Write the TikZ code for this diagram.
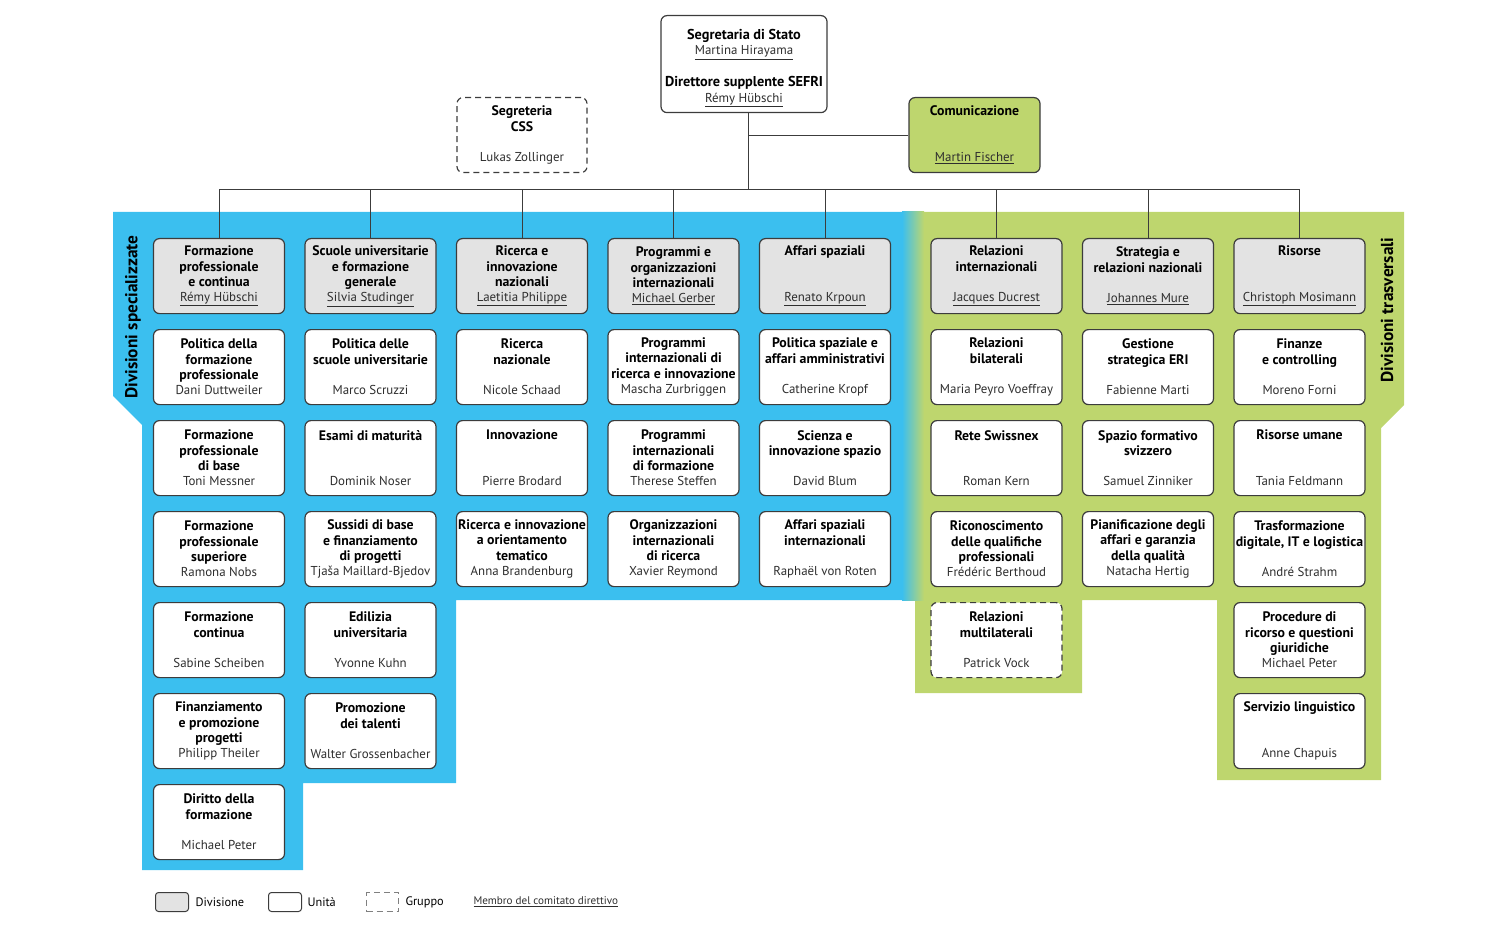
\documentclass[tikz,border=0pt]{standalone}
\usepackage{fontspec}
\setmainfont{PT Sans}
\definecolor{blu}{HTML}{3BBFEF}
\definecolor{verde}{HTML}{BED66E}
\definecolor{grigio}{HTML}{E3E3E3}
\definecolor{bordo}{HTML}{3C3C3C}
\definecolor{testo}{HTML}{2E2E2E}
\newcommand\nome[1]{{\fontsize{12.9}{15.3}\selectfont\mdseries\color{testo}#1}}
\newcommand\capo[1]{{\fontsize{12.9}{15.3}\selectfont\mdseries\color{testo}\underline{#1}}}

\begin{document}
\begin{tikzpicture}[x=1pt,y=-1pt,
    box/.style={draw=bordo,line width=1.2pt,rounded corners=6pt,anchor=north,
      minimum width=131pt,minimum height=75pt,align=center,inner sep=0pt,
      font=\fontsize{13.8}{15.3}\selectfont\bfseries},
    divisione/.style={box,fill=grigio},
    unita/.style={box,fill=white},
    gruppo/.style={box,fill=white,dash pattern=on 6pt off 4pt},
    linea/.style={draw=bordo,line width=1pt},
    legenda/.style={anchor=west,font=\fontsize{12.3}{14}\selectfont},
    titolo/.style={rotate=90,font=\fontsize{17.3}{20}\selectfont\bfseries}]
  \useasboundingbox (0,0) rectangle (1500,936);

  % coloured areas
  \fill[blu] (113,212) -- (912,212) -- (912,600) -- (456,600) -- (456,783) -- (303,783)
    -- (303,870) -- (142,870) -- (142,425) -- (113,396) -- cycle;
  \fill[verde] (912,212) -- (1404,212) -- (1404,405) -- (1381,428) -- (1381,780) -- (1217,780)
    -- (1217,600) -- (1082,600) -- (1082,693) -- (915,693) -- (915,600) -- (912,600) -- cycle;
  \shade[left color=blu,right color=verde] (902,212) rectangle (924,600);

  \node[titolo] (spec) at (133,317) {Divisioni specializzate};
  \node[titolo] (trasv) at (1387,310) {Divisioni trasversali};

  % direzione
  \node[unita,minimum width=166pt,minimum height=97pt,font=\fontsize{14.3}{15.6}\selectfont\bfseries] (stato) at (744,15)
    {\rule{0pt}{18pt}Segretaria di Stato\\\capo{Martina Hirayama}\\[16pt]Direttore supplente SEFRI\\\capo{Rémy Hübschi}};
  \node[gruppo,minimum width=130pt] (css) at (522,97) {Segreteria\\CSS\\[15.3pt]\nome{Lukas Zollinger}};
  \node[box,fill=verde] (comm) at (974.5,97) {Comunicazione\\[30.6pt]\capo{Martin Fischer}};

  % divisioni specializzate
  \node[divisione] (d1) at (219,238) {Formazione\\professionale\\e continua\\\capo{Rémy Hübschi}};
  \node[unita] (u12) at (219,329) {Politica della\\formazione\\professionale\\\nome{Dani Duttweiler}};
  \node[unita] (u13) at (219,420) {Formazione\\professionale\\di base\\\nome{Toni Messner}};
  \node[unita] (u14) at (219,511) {Formazione\\professionale\\superiore\\\nome{Ramona Nobs}};
  \node[unita] (u15) at (219,602) {Formazione\\continua\\[15.3pt]\nome{Sabine Scheiben}};
  \node[unita] (u16) at (219,693) {Finanziamento\\e promozione\\progetti\\\nome{Philipp Theiler}};
  \node[unita] (u17) at (219,784) {Diritto della\\formazione\\[15.3pt]\nome{Michael Peter}};

  \node[divisione] (d2) at (370.5,238) {Scuole universitarie\\e formazione\\generale\\\capo{Silvia Studinger}};
  \node[unita] (u22) at (370.5,329) {Politica delle\\scuole universitarie\\[15.3pt]\nome{Marco Scruzzi}};
  \node[unita] (u23) at (370.5,420) {Esami di maturità\\[30.6pt]\nome{Dominik Noser}};
  \node[unita] (u24) at (370.5,511) {Sussidi di base\\e finanziamento\\di progetti\\\nome{Tjaša Maillard-Bjedov}};
  \node[unita] (u25) at (370.5,602) {Edilizia\\universitaria\\[15.3pt]\nome{Yvonne Kuhn}};
  \node[unita] (u26) at (370.5,693) {Promozione\\dei talenti\\[15.3pt]\nome{Walter Grossenbacher}};

  \node[divisione] (d3) at (522,238) {Ricerca e\\innovazione\\nazionali\\\capo{Laetitia Philippe}};
  \node[unita] (u32) at (522,329) {Ricerca\\nazionale\\[15.3pt]\nome{Nicole Schaad}};
  \node[unita] (u33) at (522,420) {Innovazione\\[30.6pt]\nome{Pierre Brodard}};
  \node[unita] (u34) at (522,511) {Ricerca e innovazione\\a orientamento\\tematico\\\nome{Anna Brandenburg}};

  \node[divisione] (d4) at (673.5,238) {Programmi e\\organizzazioni\\internazionali\\\capo{Michael Gerber}};
  \node[unita] (u42) at (673.5,329) {Programmi\\internazionali di\\ricerca e innovazione\\\nome{Mascha Zurbriggen}};
  \node[unita] (u43) at (673.5,420) {Programmi\\internazionali\\di formazione\\\nome{Therese Steffen}};
  \node[unita] (u44) at (673.5,511) {Organizzazioni\\internazionali\\di ricerca\\\nome{Xavier Reymond}};

  \node[divisione] (d5) at (825,238) {Affari spaziali\\[30.6pt]\capo{Renato Krpoun}};
  \node[unita] (u52) at (825,329) {Politica spaziale e\\affari amministrativi\\[15.3pt]\nome{Catherine Kropf}};
  \node[unita] (u53) at (825,420) {Scienza e\\innovazione spazio\\[15.3pt]\nome{David Blum}};
  \node[unita] (u54) at (825,511) {Affari spaziali\\internazionali\\[15.3pt]\nome{Raphaël von Roten}};

  % divisioni trasversali
  \node[divisione] (d6) at (996.5,238) {Relazioni\\internazionali\\[15.3pt]\capo{Jacques Ducrest}};
  \node[unita] (u62) at (996.5,329) {Relazioni\\bilaterali\\[15.3pt]\nome{Maria Peyro Voeffray}};
  \node[unita] (u63) at (996.5,420) {Rete Swissnex\\[30.6pt]\nome{Roman Kern}};
  \node[unita] (u64) at (996.5,511) {Riconoscimento\\delle qualifiche\\professionali\\\nome{Frédéric Berthoud}};
  \node[gruppo] (u65) at (996.5,602) {Relazioni\\multilaterali\\[15.3pt]\nome{Patrick Vock}};

  \node[divisione] (d7) at (1148,238) {Strategia e\\relazioni nazionali\\[15.3pt]\capo{Johannes Mure}};
  \node[unita] (u72) at (1148,329) {Gestione\\strategica ERI\\[15.3pt]\nome{Fabienne Marti}};
  \node[unita] (u73) at (1148,420) {Spazio formativo\\svizzero\\[15.3pt]\nome{Samuel Zinniker}};
  \node[unita] (u74) at (1148,511) {Pianificazione degli\\affari e garanzia\\della qualità\\\nome{Natacha Hertig}};

  \node[divisione] (d8) at (1299.5,238) {Risorse\\[30.6pt]\capo{Christoph Mosimann}};
  \node[unita] (u82) at (1299.5,329) {Finanze\\e controlling\\[15.3pt]\nome{Moreno Forni}};
  \node[unita] (u83) at (1299.5,420) {Risorse umane\\[30.6pt]\nome{Tania Feldmann}};
  \node[unita] (u84) at (1299.5,511) {Trasformazione\\digitale, IT e logistica\\[15.3pt]\nome{André Strahm}};
  \node[unita] (u85) at (1299.5,602) {Procedure di\\ricorso e questioni\\giuridiche\\\nome{Michael Peter}};
  \node[unita] (u86) at (1299.5,693) {Servizio linguistico\\[30.6pt]\nome{Anne Chapuis}};

  % lines
  \coordinate (bus) at (748,190);
  \draw[linea] (stato.south -| bus) -- (bus);
  \draw[linea] (comm.west) -- (comm.west -| bus);
  \draw[linea] (d1.north |- bus) -- (d8.north |- bus);
  \foreach \i in {1,...,8}
    \draw[linea] (d\i.north) -- (d\i.north |- bus);

  % legend
  \node[divisione,anchor=west,minimum width=33pt,minimum height=19pt,rounded corners=3pt,line width=1pt] (leg1) at (155,902) {};
  \node[legenda] (legt1) at (192,902) {Divisione};
  \node[unita,anchor=west,minimum width=33pt,minimum height=19pt,rounded corners=3pt,line width=1pt] (leg2) at (268,902) {};
  \node[legenda] (legt2) at (304,902) {Unità};
  \node[gruppo,anchor=west,minimum width=32pt,minimum height=19pt,rounded corners=0pt,line width=1pt,draw=gray] (leg3) at (366,902) {};
  \node[legenda] (legt3) at (402,902) {Gruppo};
  \node[legenda,font=\fontsize{11.1}{13}\selectfont,text=testo] (legt4) at (470,902) {\underline{Membro del comitato direttivo}};
\end{tikzpicture}
\end{document}
